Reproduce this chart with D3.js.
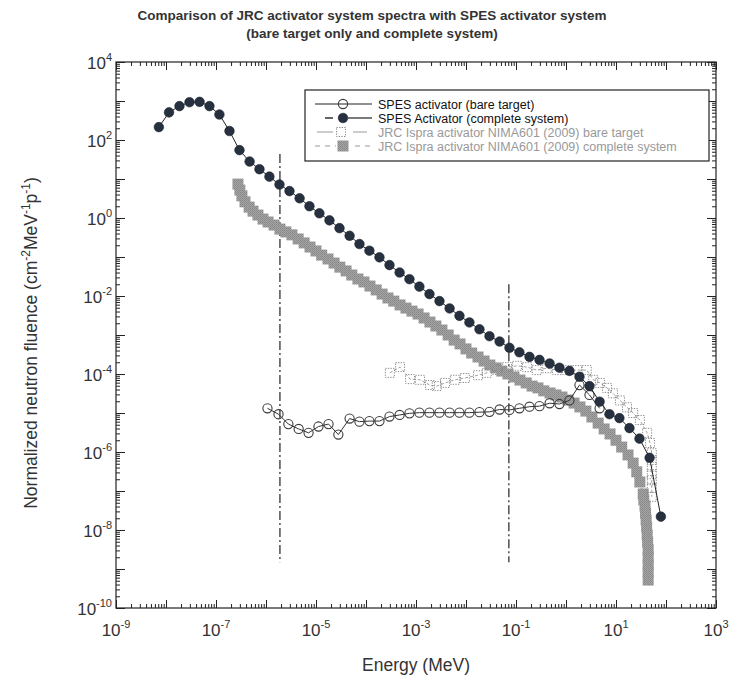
<!DOCTYPE html>
<html>
<head>
<meta charset="utf-8">
<script src="https://cdn.jsdelivr.net/npm/d3@7"></script>
<style>
  body { margin: 0; background: #fff; }
  svg text { font-family: "Liberation Sans", Arial, sans-serif; }
</style>
</head>
<body>
<svg id="chart" width="737" height="680"></svg>
<script>
// SPES activator, bare target (open circles)
var spesBareE = [1.07e-6, 1.78e-6, 2.8e-6, 4.5e-6, 7.1e-6, 1.12e-5, 1.78e-5, 2.8e-5, 4.7e-5, 7.4e-5,
  1.17e-4, 1.86e-4, 2.95e-4, 4.7e-4, 7.4e-4, 1.17e-3, 1.86e-3, 2.95e-3, 4.7e-3, 7.4e-3,
  0.0117, 0.0186, 0.0295, 0.047, 0.074, 0.117, 0.186, 0.295, 0.47, 0.74, 1.17, 1.86, 2.95, 4.7];
var spesBareF = [1.32e-5, 9.3e-6, 5.2e-6, 3.9e-6, 3.1e-6, 4.5e-6, 5.2e-6, 2.8e-6, 7.2e-6, 6.0e-6,
  6.2e-6, 6.2e-6, 8.1e-6, 8.9e-6, 9.8e-6, 1.02e-5, 1.02e-5, 1.02e-5, 1.02e-5, 1.02e-5,
  1.02e-5, 1.05e-5, 1.07e-5, 1.23e-5, 1.2e-5, 1.32e-5, 1.45e-5, 1.5e-5, 1.78e-5, 1.7e-5, 2.1e-5, 5.2e-5, 2.9e-5, 1.32e-5];

// SPES activator, complete system (filled circles)
var spesCompE = [7.2e-9, 1.15e-8, 1.86e-8, 2.95e-8, 4.7e-8, 7.4e-8, 1.17e-7, 1.86e-7, 2.95e-7, 4.7e-7,
  7.4e-7, 1.17e-6, 1.86e-6, 2.95e-6, 4.7e-6, 7.4e-6, 1.17e-5, 1.86e-5, 2.95e-5, 4.7e-5,
  7.4e-5, 1.17e-4, 1.86e-4, 2.95e-4, 4.7e-4, 7.4e-4, 1.17e-3, 1.86e-3, 2.95e-3, 4.7e-3,
  7.4e-3, 0.0117, 0.0186, 0.0295, 0.047, 0.074, 0.117, 0.186, 0.295, 0.47,
  0.74, 1.17, 1.86, 2.95, 4.7, 7.4, 11.7, 18.6, 29.5, 47, 79];
var spesCompF = [214, 510, 740, 930, 950, 740, 450, 170, 55, 28,
  17.8, 11.5, 7.2, 4.9, 3.2, 2.0, 1.32, 0.87, 0.55, 0.35,
  0.215, 0.145, 0.098, 0.062, 0.040, 0.027, 0.0174, 0.0112, 0.0074, 0.0048,
  0.0031, 0.0021, 0.0014, 9.3e-4, 6.8e-4, 4.7e-4, 3.6e-4, 2.75e-4, 2.3e-4, 1.86e-4,
  1.45e-4, 1.2e-4, 8.5e-5, 4.9e-5, 1.95e-5, 9.3e-6, 7.4e-6, 4.1e-6, 2.2e-6, 7.1e-7, 2.2e-8];

// JRC Ispra activator NIMA601 (2009), bare target (dashed squares)
var jrcBareE = [3.0e-4, 4.8e-4, 7.6e-4, 1.2e-3, 1.9e-3, 2.6e-3, 3.8e-3, 6.0e-3, 9.5e-3, 0.0174,
  0.026, 0.042, 0.066, 0.105, 0.166, 0.26, 0.42, 0.66, 1.05, 1.66,
  2.6, 3.5, 4.8, 6.6, 8.7, 12, 16.6, 22, 30, 42,
  48, 52, 52, 52, 52, 52, 52, 52];
var jrcBareF = [1.07e-4, 1.5e-4, 7.4e-5, 7.1e-5, 5.2e-5, 4.9e-5, 5.9e-5, 7.1e-5, 7.9e-5, 9.3e-5,
  1.07e-4, 1.26e-4, 1.5e-4, 1.62e-4, 1.5e-4, 1.26e-4, 1.41e-4, 1.26e-4, 1.26e-4, 1.26e-4,
  1.26e-4, 7.1e-5, 5.9e-5, 4.4e-5, 3.2e-5, 2.1e-5, 1.4e-5, 1.0e-5, 6.6e-6, 3.1e-6,
  1.7e-6, 9.3e-7, 6.2e-7, 4.2e-7, 2.7e-7, 1.9e-7, 1.2e-7, 7.1e-8];

// JRC Ispra activator NIMA601 (2009), complete system (grey squares)
var jrcCompE = [2.75e-7, 3.0e-7, 3.3e-7, 3.8e-7, 4.6e-7, 5.5e-7, 6.9e-7, 8.7e-7, 1.1e-6, 1.45e-6,
  1.9e-6, 2.5e-6, 3.3e-6, 4.4e-6, 5.8e-6, 7.6e-6, 1.0e-5, 1.3e-5, 1.74e-5, 2.3e-5,
  3.0e-5, 4.0e-5, 5.2e-5, 6.9e-5, 9.1e-5, 1.2e-4, 1.6e-4, 2.1e-4, 2.75e-4, 3.6e-4,
  4.8e-4, 6.3e-4, 8.3e-4, 1.1e-3, 1.45e-3, 1.9e-3, 2.5e-3, 3.3e-3, 4.4e-3, 5.8e-3,
  7.6e-3, 0.01, 0.013, 0.0174, 0.023, 0.030, 0.040, 0.052, 0.069, 0.091,
  0.12, 0.16, 0.21, 0.275, 0.36, 0.48, 0.63, 0.83, 1.1, 1.45,
  1.9, 2.5, 3.3, 4.4, 5.8, 7.6, 10, 13, 17.4, 22,
  26, 30, 35, 36, 38, 39, 40, 41, 42, 43,
  44, 44, 44, 44, 44];
var jrcCompF = [7.4, 5.2, 3.7, 2.6, 1.9, 1.5, 1.19, 0.94, 0.79, 0.66,
  0.52, 0.44, 0.37, 0.29, 0.23, 0.18, 0.143, 0.112, 0.089, 0.070,
  0.055, 0.044, 0.0345, 0.0273, 0.0229, 0.018, 0.0143, 0.0112, 0.0089, 0.0074,
  0.0059, 0.0049, 0.0041, 0.00345, 0.00273, 0.00215, 0.0017, 0.00134, 0.001, 7.4e-4,
  5.9e-4, 4.4e-4, 3.45e-4, 2.73e-4, 2.15e-4, 1.7e-4, 1.43e-4, 1.19e-4, 1.0e-4, 8.4e-5,
  7.0e-5, 5.9e-5, 4.9e-5, 4.4e-5, 3.7e-5, 3.26e-5, 2.9e-5, 2.57e-5, 2.15e-5, 1.8e-5,
  1.43e-5, 1.12e-5, 7.9e-6, 5.5e-6, 3.9e-6, 2.9e-6, 2.0e-6, 1.34e-6, 8.4e-7, 5.2e-7,
  3.1e-7, 1.7e-7, 8.4e-8, 5.9e-8, 4.1e-8, 2.7e-8, 1.8e-8, 1.2e-8, 7.4e-9, 4.9e-9,
  3.1e-9, 2.0e-9, 1.27e-9, 8.4e-10, 5.2e-10];

// dash-dot marker lines
var cutE = [1.9e-6, 0.072];
var cutTop = [44, 0.02];
var cutBottom = [1.5e-9, 1.5e-9];

var xTickExp = [-9, -7, -5, -3, -1, 1, 3];
var yTickExp = [4, 2, 0, -2, -4, -6, -8, -10];

var legendLabels = [
  'SPES activator (bare target)',
  'SPES Activator (complete system)',
  'JRC Ispra activator NIMA601 (2009) bare target',
  'JRC Ispra activator NIMA601 (2009) complete system'
];

var svg = d3.select('#chart');
var L = 116, R = 716, T = 62, B = 608;

var x = d3.scaleLog().domain([1e-9, 1e3]).range([L, R]);
var y = d3.scaleLog().domain([1e-10, 1e4]).range([B, T]);

// stipple texture for the grey band
var pat = svg.append('defs').append('pattern')
  .attr('id', 'stip').attr('width', 2).attr('height', 2)
  .attr('patternUnits', 'userSpaceOnUse');
pat.append('rect').attr('width', 2).attr('height', 2).attr('fill', '#a4a4a4');
pat.append('rect').attr('width', 1).attr('height', 1).attr('fill', '#878787');
pat.append('rect').attr('x', 1).attr('y', 1).attr('width', 1).attr('height', 1).attr('fill', '#8f8f8f');

function zip(a, b) {
  return a.map(function(v, i) { return [v, b[i]]; });
}

var line = d3.line()
  .x(function(d) { return x(d[0]); })
  .y(function(d) { return y(d[1]); });

// title
svg.append('text').attr('x', 372).attr('y', 20).attr('text-anchor', 'middle')
  .attr('font-size', 13.5).attr('font-weight', 'bold').attr('fill', '#333')
  .text('Comparison of JRC activator system spectra with SPES activator system');
svg.append('text').attr('x', 372).attr('y', 38).attr('text-anchor', 'middle')
  .attr('font-size', 13.5).attr('font-weight', 'bold').attr('fill', '#333')
  .text('(bare target only and complete system)');

// ticks, inward on all four sides
function decades(lo, hi) {
  var a = [];
  for (var e = lo; e <= hi; e++) a.push(Math.pow(10, e));
  return a;
}
function minors(lo, hi) {
  var a = [];
  for (var e = lo; e < hi; e++) {
    for (var k = 2; k < 10; k++) a.push(k * Math.pow(10, e));
  }
  return a;
}

function drawAxis(axisFn, scale, vals, size, tx, ty) {
  var g = svg.append('g').attr('transform', 'translate(' + tx + ',' + ty + ')')
    .call(axisFn(scale).tickValues(vals).tickSize(size).tickFormat(''));
  g.select('.domain').remove();
  g.selectAll('line').attr('stroke', '#222');
}

var xMaj = decades(-9, 3), xMin = minors(-9, 3);
var yMaj = decades(-10, 4), yMin = minors(-10, 4);
drawAxis(d3.axisTop, x, xMaj, 8, 0, B);
drawAxis(d3.axisTop, x, xMin, 4, 0, B);
drawAxis(d3.axisBottom, x, xMaj, 8, 0, T);
drawAxis(d3.axisBottom, x, xMin, 4, 0, T);
drawAxis(d3.axisRight, y, yMaj, 9, L, 0);
drawAxis(d3.axisRight, y, yMin, 4, L, 0);
drawAxis(d3.axisLeft, y, yMaj, 9, R, 0);
drawAxis(d3.axisLeft, y, yMin, 4, R, 0);

svg.append('rect').attr('x', L).attr('y', T).attr('width', R - L).attr('height', B - T)
  .attr('fill', 'none').attr('stroke', '#222').attr('stroke-width', 1.2);

// tick labels as 10 with superscript exponent
function powLabel(t, e) {
  t.append('tspan').text('10');
  t.append('tspan').attr('dy', -8).attr('font-size', 11).text(e < 0 ? '-' + (-e) : e);
}

xTickExp.forEach(function(e) {
  var t = svg.append('text').attr('x', x(Math.pow(10, e))).attr('y', 636)
    .attr('text-anchor', 'middle').attr('font-size', 17).attr('fill', '#333');
  powLabel(t, e);
});
yTickExp.forEach(function(e) {
  var t = svg.append('text').attr('x', 112).attr('y', y(Math.pow(10, e)) + 7)
    .attr('text-anchor', 'end').attr('font-size', 17).attr('fill', '#333');
  powLabel(t, e);
});

// axis titles
svg.append('text').attr('x', (L + R) / 2).attr('y', 671).attr('text-anchor', 'middle')
  .attr('font-size', 17.5).attr('fill', '#333').text('Energy (MeV)');

var yt = svg.append('text').attr('transform', 'translate(37,' + ((T + B) / 2 + 8) + ') rotate(-90)')
  .attr('text-anchor', 'middle').attr('font-size', 17.5).attr('fill', '#333');
yt.append('tspan').text('Normalized neutron fluence (cm');
yt.append('tspan').attr('dy', -7).attr('font-size', 12).text('-2');
yt.append('tspan').attr('dy', 7).text('MeV');
yt.append('tspan').attr('dy', -7).attr('font-size', 12).text('-1');
yt.append('tspan').attr('dy', 7).text('p');
yt.append('tspan').attr('dy', -7).attr('font-size', 12).text('-1');
yt.append('tspan').attr('dy', 7).text(')');

// dash-dot cut lines
cutE.forEach(function(e, i) {
  svg.append('line').attr('x1', x(e)).attr('x2', x(e))
    .attr('y1', y(cutTop[i])).attr('y2', y(cutBottom[i]))
    .attr('stroke', '#222').attr('stroke-width', 1.2).attr('stroke-dasharray', '9,3,2,3');
});

// marker painters
function markOpen(g, cx, cy) {
  g.append('circle').attr('cx', cx).attr('cy', cy).attr('r', 4.6)
    .attr('fill', 'none').attr('stroke', '#3a3a3a').attr('stroke-width', 1.1);
}
function markFilled(g, cx, cy) {
  g.append('circle').attr('cx', cx).attr('cy', cy).attr('r', 4.8)
    .attr('fill', '#26303e').attr('stroke', '#1c2430').attr('stroke-width', 0.6);
}
function markBare(g, cx, cy) {
  g.append('rect').attr('x', cx - 4.5).attr('y', cy - 4.5).attr('width', 9).attr('height', 9)
    .attr('fill', 'none').attr('stroke', '#8c8c8c').attr('stroke-width', 1)
    .attr('stroke-dasharray', '1.3,1.3');
}
function markComp(g, cx, cy) {
  g.append('rect').attr('x', cx - 5.5).attr('y', cy - 5.5).attr('width', 11).attr('height', 11)
    .attr('fill', 'url(#stip)');
}

function drawSeries(data, lineStyle, marker) {
  var g = svg.append('g');
  g.append('path').datum(data).attr('d', line).attr('fill', 'none')
    .attr('stroke', lineStyle.color).attr('stroke-width', lineStyle.width)
    .attr('stroke-dasharray', lineStyle.dash || null);
  data.forEach(function(d) { marker(g, x(d[0]), y(d[1])); });
}

drawSeries(zip(jrcCompE, jrcCompF), {color: '#999', width: 1, dash: '4,3'}, markComp);
drawSeries(zip(jrcBareE, jrcBareF), {color: '#888', width: 0.8, dash: '3,2'}, markBare);
drawSeries(zip(spesBareE, spesBareF), {color: '#333', width: 1}, markOpen);
drawSeries(zip(spesCompE, spesCompF), {color: '#222', width: 1}, markFilled);

// legend
var lg = svg.append('g');
lg.append('rect').attr('x', 305).attr('y', 90).attr('width', 404).attr('height', 71)
  .attr('fill', '#fff').attr('stroke', '#222').attr('stroke-width', 1.2);

var rowY = [104, 118, 132, 146];
var sym = 343;

// row 1: solid line, open circle
lg.append('line').attr('x1', 315).attr('x2', 372).attr('y1', rowY[0]).attr('y2', rowY[0])
  .attr('stroke', '#222');
markOpen(lg, sym, rowY[0]);
// row 2: short dash, filled circle, solid
lg.append('line').attr('x1', 325).attr('x2', 333).attr('y1', rowY[1]).attr('y2', rowY[1])
  .attr('stroke', '#222').attr('stroke-width', 1.4);
lg.append('line').attr('x1', 348).attr('x2', 372).attr('y1', rowY[1]).attr('y2', rowY[1])
  .attr('stroke', '#222').attr('stroke-width', 1.2);
markFilled(lg, sym, rowY[1]);
// row 3: grey line, dashed square
lg.append('line').attr('x1', 317).attr('x2', 333).attr('y1', rowY[2]).attr('y2', rowY[2])
  .attr('stroke', '#999');
lg.append('line').attr('x1', 353).attr('x2', 367).attr('y1', rowY[2]).attr('y2', rowY[2])
  .attr('stroke', '#999');
markBare(lg, sym - 2, rowY[2]);
// row 4: dashed grey, grey square
lg.append('line').attr('x1', 315).attr('x2', 372).attr('y1', rowY[3]).attr('y2', rowY[3])
  .attr('stroke', '#999').attr('stroke-dasharray', '5,5');
lg.append('rect').attr('x', sym - 7).attr('y', rowY[3] - 6).attr('width', 14).attr('height', 12)
  .attr('fill', '#fff');
markComp(lg, sym, rowY[3]);

legendLabels.forEach(function(s, i) {
  lg.append('text').attr('x', 378).attr('y', rowY[i] + 4.5).attr('font-size', 12.5)
    .attr('fill', i < 2 ? '#111' : '#999').text(s);
});
</script>
</body>
</html>
